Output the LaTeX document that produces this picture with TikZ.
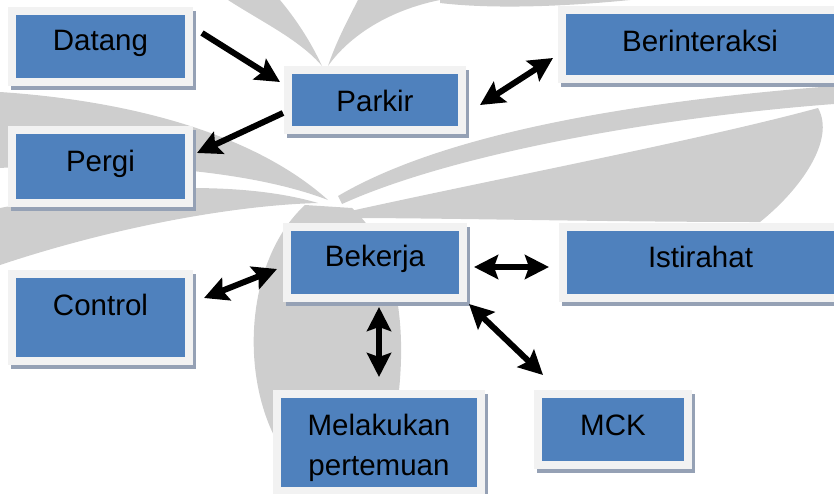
\documentclass[tikz,border=0pt]{standalone}
\usepackage{fontspec}
\setmainfont{Liberation Sans}
\usetikzlibrary{arrows.meta,shadows}

\definecolor{boxblue}{HTML}{4F81BD}
\definecolor{boxframe}{HTML}{F2F2F2}
\definecolor{boxshadow}{HTML}{95A1B5}
\definecolor{wmgray}{RGB}{206,206,206}

\tikzset{
  box/.style={
    draw=boxframe, line width=8pt, fill=boxblue, inner sep=0pt,
    font=\fontsize{29.5}{40}\selectfont, text=black, align=center,
    drop shadow={shadow xshift=3pt, shadow yshift=-4pt, opacity=1,
                 fill=boxshadow, draw=boxshadow, line width=8pt}},
  tip/.tip={Stealth[length=24pt,width=24pt,inset=4pt]},
  arr/.style={line width=6pt, -tip},
  biarr/.style={line width=6pt, tip-tip},
  wm/.style={fill=wmgray, draw=none}
}

\begin{document}
\begin{tikzpicture}[x=1pt, y=-1pt]
\useasboundingbox (0,0) rectangle (834,493);
\clip (0,0) rectangle (834,493);

% faint logo in the background
\fill[wm] (228,0) .. controls (262,22) and (300,40) .. (322,66)
          .. controls (310,40) and (295,18) .. (280,0) -- cycle;
\fill[wm] (358,0) .. controls (345,25) and (335,45) .. (328,66)
          .. controls (350,35) and (390,10) .. (440,0) -- cycle;
\fill[wm] (440,0) -- (630,0) .. controls (560,7) and (490,9) .. (440,3) -- cycle;
\fill[wm] (0,92) .. controls (120,100) and (250,130) .. (328,200)
          .. controls (250,170) and (120,160) .. (0,168) -- cycle;
\fill[wm] (0,208) .. controls (120,185) and (240,180) .. (318,203)
          .. controls (240,205) and (120,225) .. (0,265) -- cycle;
\fill[wm] (338,196) .. controls (450,130) and (650,100) .. (834,86)
          -- (834,104) .. controls (650,118) and (450,155) .. (342,204) -- cycle;
\fill[wm] (346,212) .. controls (500,178) and (700,140) .. (818,108)
          .. controls (836,140) and (800,190) .. (760,222)
          .. controls (600,222) and (450,218) .. (346,218) -- cycle;
\fill[wm] (305,205) .. controls (245,260) and (238,380) .. (282,450)
          -- (395,420) .. controls (410,330) and (398,250) .. (352,208) -- cycle;

% boxes
\node[box, minimum width=177pt, minimum height=71pt, text height=20pt, text depth=13pt]
  (datang) at (100.5,46.5) {Datang};
\node[box, minimum width=174pt, minimum height=60pt, text height=24pt, text depth=2pt]
  (parkir) at (375,100) {Parkir};
\node[box, minimum width=276pt, minimum height=69pt, text height=20pt, text depth=7pt]
  (berinteraksi) at (700,44.5) {Berinteraksi};
\node[box, minimum width=177pt, minimum height=73pt, text height=20pt, text depth=11pt]
  (pergi) at (100.5,166.5) {Pergi};
\node[box, minimum width=177pt, minimum height=87pt, text height=20pt, text depth=25pt]
  (control) at (100.5,317.5) {Control};
\node[box, minimum width=176pt, minimum height=71pt, text height=20pt, text depth=13pt]
  (bekerja) at (375,262.5) {Bekerja};
\node[box, minimum width=275pt, minimum height=71pt, text height=20pt, text depth=11pt]
  (istirahat) at (700.5,262.5) {Istirahat};
\node[box, minimum width=150pt, minimum height=71pt, text height=20pt, text depth=9pt]
  (mck) at (613,429.5) {MCK};
\node[box, minimum width=204pt, minimum height=97pt, text height=65pt, text depth=0pt]
  (melakukan) at (379,442.5) {Melakukan\\pertemuan};

% connectors
\draw[arr] ([shift={(9,-13.5)}]datang.east) -- ([shift={(-4,-18)}]parkir.west);
\draw[arr] ([shift={(-1,13)}]parkir.west) -- ([shift={(4,-13.5)}]pergi.east);
\draw[biarr] ([shift={(14,5)}]parkir.east) -- ([shift={(-5,13.5)}]berinteraksi.west);
\draw[biarr] ([shift={(11,-19.5)}]control.east) -- ([shift={(-6,6.5)}]bekerja.west);
\draw[biarr] ([shift={(7,4.5)}]bekerja.east) -- ([shift={(-10,4.5)}]istirahat.west);
\draw[biarr] ([shift={(4,5)}]bekerja.south) -- ([shift={(0,-13)}]melakukan.north);
\draw[biarr] ([shift={(2,2)}]bekerja.south east) -- ([shift={(9,-15)}]mck.north west);
\end{tikzpicture}
\end{document}
